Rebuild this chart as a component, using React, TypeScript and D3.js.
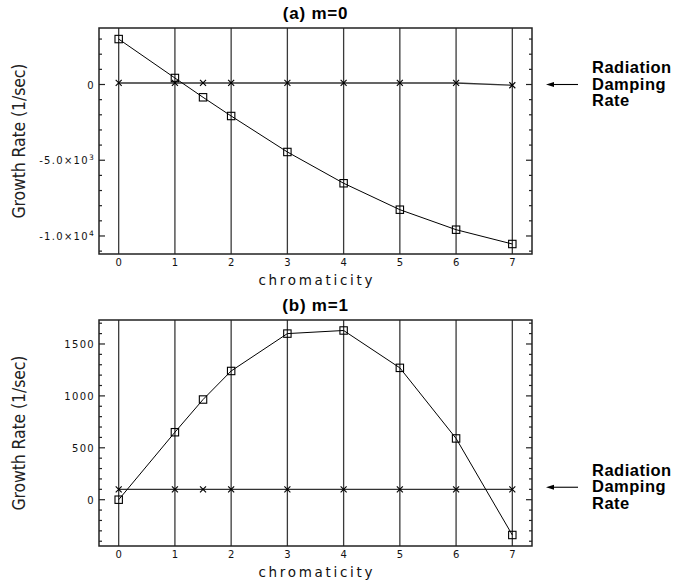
import React from "react";
import * as d3 from "d3";

// ---- data ----
const chromA = [0, 1, 1.5, 2, 3, 4, 5, 6, 7];
const growthA = [3000, 430, -845, -2080, -4455, -6520, -8265, -9585, -10530];
const dampA = [100, 100, 100, 100, 100, 100, 100, 100, -50];

const chromB = [0, 1, 1.5, 2, 3, 4, 5, 6, 7];
const growthB = [0, 650, 965, 1240, 1600, 1630, 1270, 590, -340];
const dampB = [100, 100, 100, 100, 100, 100, 100, 100, 100];

const xTicks = [0, 1, 2, 3, 4, 5, 6, 7];
const yMajorA = [-10000, -5000, 0];
const yMajorLabelsA = [["-1.0×10", "4"], ["-5.0×10", "3"], ["0", ""]];
const yMajorB = [0, 500, 1000, 1500];
const yMajorLabelsB = [["0", ""], ["500", ""], ["1000", ""], ["1500", ""]];
const titles = ["(a) m=0", "(b) m=1"];
const xLabel = "chromaticity";
const yLabel = "Growth Rate (1/sec)";
const noteLines = ["Radiation", "Damping", "Rate"];

const W = 678;
const H = 584;
const left = 99;
const right = 532;
const panelH = 226;

const tickFont = "'DejaVu Sans', sans-serif";

function Panel({
  top,
  title,
  yDomain,
  major,
  majorLabels,
  minorStep,
  minorRange,
  xs,
  growth,
  damp,
  arrowValue,
}: any) {
  const x = d3.scaleLinear().domain([-0.35, 7.35]).range([left, right]);
  const y = d3.scaleLinear().domain(yDomain).range([top + panelH, top]);
  const bottom = top + panelH;
  const minor = d3.range(minorRange[0], minorRange[1] + 1e-9, minorStep);
  const line = d3
    .line<number>()
    .x((_, i) => x(xs[i]))
    .y((d) => y(d));
  const ay = y(arrowValue);
  return (
    <g>
      <text
        x={(left + right) / 2}
        y={top - 9}
        textAnchor="middle"
        fontFamily="'Liberation Sans', Arial, sans-serif"
        fontWeight="bold"
        fontSize={17}
        letterSpacing={0.8}
      >
        {title}
      </text>
      {/* vertical grid */}
      {xTicks.map((t) => (
        <line
          key={"g" + t}
          x1={x(t)}
          x2={x(t)}
          y1={top}
          y2={bottom}
          stroke="#3a3a3a"
          strokeWidth={1.3}
        />
      ))}
      {/* minor/major y ticks */}
      {minor.map((v: number) => {
        const isMajor = major.some((m: number) => Math.abs(m - v) < 1e-6);
        const len = isMajor ? 6 : 3;
        return (
          <g key={"t" + v}>
            <line x1={left} x2={left + len} y1={y(v)} y2={y(v)} stroke="#222" strokeWidth={1.2} />
            <line x1={right - len} x2={right} y1={y(v)} y2={y(v)} stroke="#222" strokeWidth={1.2} />
          </g>
        );
      })}
      {/* y labels */}
      {major.map((v: number, i: number) => (
        <text
          key={"yl" + v}
          x={95}
          y={y(v) + 4}
          textAnchor="end"
          fontFamily={tickFont}
          fontSize={10}
          letterSpacing={1.3}
          fill="#111"
        >
          {majorLabels[i][0]}
          {majorLabels[i][1] ? (
            <tspan dy={-4} fontSize={7.5}>
              {majorLabels[i][1]}
            </tspan>
          ) : null}
        </text>
      ))}
      {/* x labels */}
      {xTicks.map((t) => (
        <text
          key={"xl" + t}
          x={x(t)}
          y={bottom + 12}
          textAnchor="middle"
          fontFamily={tickFont}
          fontSize={10}
          fill="#111"
        >
          {t}
        </text>
      ))}
      <text
        x={(left + right) / 2}
        y={bottom + 31}
        textAnchor="middle"
        fontFamily={tickFont}
        fontSize={13.5}
        textLength={114}
        lengthAdjust="spacing"
        fill="#111"
      >
        {xLabel}
      </text>
      <text
        transform={`translate(25,${(top + bottom) / 2}) rotate(-90)`}
        textAnchor="middle"
        fontFamily="'Liberation Sans Narrow', 'DejaVu Sans Condensed', sans-serif"
        fontSize={17.5}
        textLength={155}
        lengthAdjust="spacing"
        fill="#222"
      >
        {yLabel}
      </text>
      {/* damping line */}
      <path d={line(damp) || ""} fill="none" stroke="#333" strokeWidth={1.3} />
      {damp.map((d: number, i: number) => (
        <g key={"c" + i} transform={`translate(${x(xs[i])},${y(d)})`}>
          <line x1={-3} y1={-3} x2={3} y2={3} stroke="#000" strokeWidth={1.1} />
          <line x1={-3} y1={3} x2={3} y2={-3} stroke="#000" strokeWidth={1.1} />
        </g>
      ))}
      {/* growth line */}
      <path d={line(growth) || ""} fill="none" stroke="#000" strokeWidth={1} />
      {growth.map((d: number, i: number) => (
        <rect
          key={"s" + i}
          x={x(xs[i]) - 3.7}
          y={y(d) - 3.7}
          width={7.4}
          height={7.4}
          fill="none"
          stroke="#000"
          strokeWidth={1.1}
        />
      ))}
      {/* frame */}
      <rect x={left} y={top} width={right - left} height={panelH} fill="none" stroke="#222" strokeWidth={1.5} />
      {/* annotation */}
      <line x1={552} x2={578} y1={ay} y2={ay} stroke="#000" strokeWidth={1.1} />
      <path d={`M546,${ay} L554,${ay - 2.5} L554,${ay + 2.5} Z`} fill="#000" />
      {noteLines.map((s, i) => (
        <text
          key={s}
          x={592}
          y={ay + (i - 1) * 16.5 + 5}
          fontFamily="'Liberation Sans', Arial, sans-serif"
          fontWeight="bold"
          fontSize={16.5}
          letterSpacing={0.5}
        >
          {s}
        </text>
      ))}
    </g>
  );
}

export default function App() {
  return (
    <svg width={W} height={H} style={{ display: "block", position: "absolute", left: 0, top: 0, background: "#fff" }}>
      <Panel
        top={28}
        title={titles[0]}
        yDomain={[-11190, 3730]}
        major={yMajorA}
        majorLabels={yMajorLabelsA}
        minorStep={1000}
        minorRange={[-11000, 3000]}
        xs={chromA}
        growth={growthA}
        damp={dampA}
        arrowValue={0}
      />
      <Panel
        top={320}
        title={titles[1]}
        yDomain={[-446, 1731]}
        major={yMajorB}
        majorLabels={yMajorLabelsB}
        minorStep={100}
        minorRange={[-400, 1700]}
        xs={chromB}
        growth={growthB}
        damp={dampB}
        arrowValue={120}
      />
    </svg>
  );
}
